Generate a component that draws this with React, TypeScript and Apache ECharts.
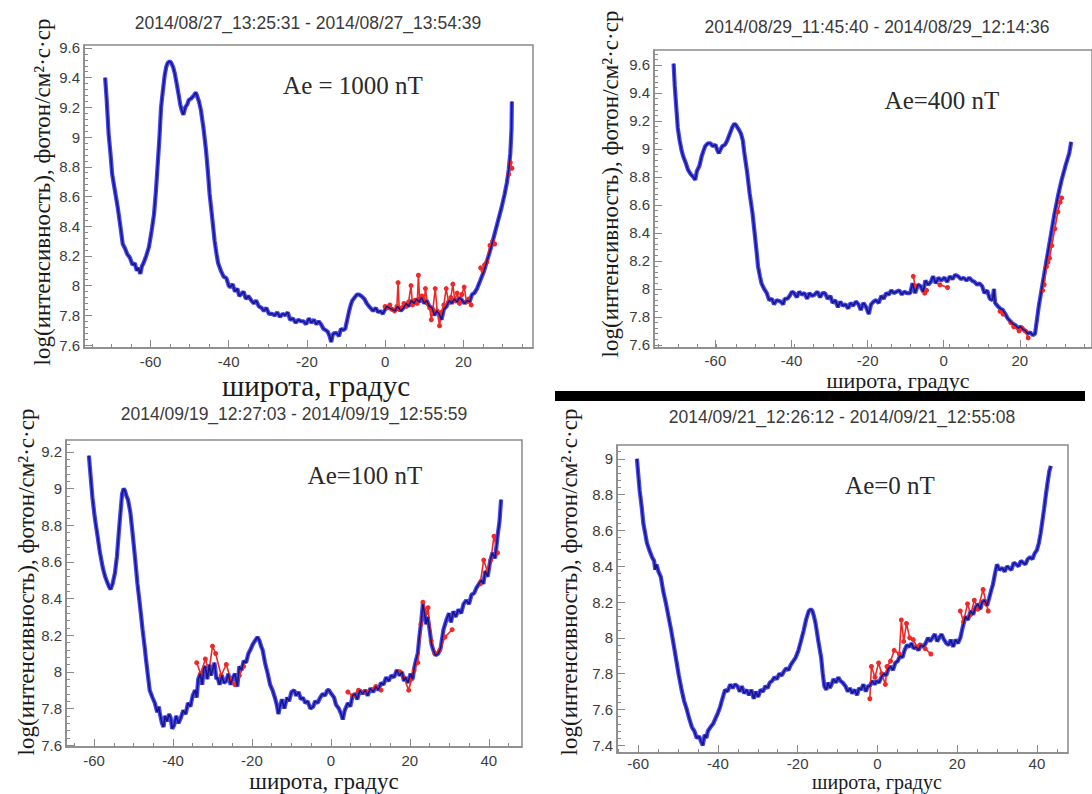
import React, { useEffect, useRef } from "react";
import * as echarts from "echarts";

type Pt = [number, number] | null;

const P1_TITLE = "2014/08/27_13:25:31 - 2014/08/27_13:54:39";
const P2_TITLE = "2014/08/29_11:45:40 - 2014/08/29_12:14:36";
const P3_TITLE = "2014/09/19_12:27:03 - 2014/09/19_12:55:59";
const P4_TITLE = "2014/09/21_12:26:12 - 2014/09/21_12:55:08";
const AE_LABELS = ["Ae = 1000 nT", "Ae=400 nT", "Ae=100 nT", "Ae=0 nT"];
const X_NAME = "широта, градус";
const Y_NAME = "log(интенсивность), фотон/см²·с·ср";

const P1_BLUE: Pt[] = [
  [-71.6, 9.4], [-71.2, 9.25], [-70.7, 9.02], [-70.2, 8.88], [-69.8, 8.75], [-69.1, 8.64], [-68.4, 8.53], [-67.7, 8.4],
  [-67.1, 8.28], [-66.5, 8.25], [-65.9, 8.21], [-65.3, 8.19], [-64.6, 8.14], [-64.0, 8.15], [-63.5, 8.1], [-63.1, 8.12],
  [-62.6, 8.08], [-62.2, 8.13], [-61.8, 8.15], [-61.1, 8.2], [-60.4, 8.26], [-59.7, 8.37], [-59.1, 8.48], [-58.6, 8.64],
  [-58.2, 8.8], [-57.7, 9.0], [-57.3, 9.2], [-56.8, 9.32], [-56.4, 9.41], [-56.0, 9.47], [-55.6, 9.5], [-55.1, 9.51],
  [-54.7, 9.5], [-54.2, 9.47], [-53.8, 9.43], [-53.3, 9.36], [-52.9, 9.3], [-52.4, 9.22], [-52.0, 9.18], [-51.6, 9.15],
  [-51.1, 9.2], [-50.6, 9.22], [-50.2, 9.25], [-49.6, 9.26], [-48.9, 9.28], [-48.4, 9.3], [-48.0, 9.27], [-47.6, 9.24],
  [-47.1, 9.18], [-46.4, 9.05], [-45.8, 8.91], [-45.3, 8.76], [-44.9, 8.62], [-44.2, 8.45], [-43.6, 8.3], [-43.1, 8.21],
  [-42.7, 8.15], [-42.0, 8.1], [-41.3, 8.06], [-40.6, 8.05], [-40.0, 8.0], [-39.6, 7.99], [-39.0, 8.01], [-38.4, 7.96],
  [-37.8, 7.98], [-37.3, 7.93], [-36.9, 7.94], [-36.2, 7.96], [-35.6, 7.91], [-35.0, 7.93], [-34.2, 7.9], [-33.6, 7.88],
  [-33.0, 7.9], [-32.3, 7.86], [-31.6, 7.85], [-31.0, 7.83], [-30.4, 7.85], [-29.7, 7.81], [-28.9, 7.81], [-28.2, 7.8],
  [-27.6, 7.82], [-26.9, 7.79], [-26.2, 7.81], [-25.6, 7.8], [-24.9, 7.82], [-24.3, 7.77], [-23.6, 7.78], [-22.9, 7.75],
  [-22.2, 7.77], [-21.5, 7.76], [-20.9, 7.76], [-20.2, 7.74], [-19.5, 7.78], [-18.9, 7.75], [-18.2, 7.77], [-17.6, 7.74],
  [-17.0, 7.76], [-16.4, 7.74], [-15.8, 7.71], [-15.2, 7.7], [-14.7, 7.69], [-14.2, 7.66], [-13.8, 7.62], [-13.4, 7.67],
  [-13.0, 7.68], [-12.4, 7.68], [-11.8, 7.66], [-11.3, 7.71], [-10.7, 7.7], [-10.2, 7.71], [-9.7, 7.77], [-9.2, 7.83],
  [-8.8, 7.87], [-8.4, 7.9], [-7.8, 7.92], [-7.2, 7.94], [-6.7, 7.94], [-6.1, 7.93], [-5.3, 7.91], [-4.7, 7.88],
  [-4.1, 7.86], [-3.1, 7.83], [-2.4, 7.85], [-1.8, 7.82], [-1.3, 7.83], [-0.6, 7.81], [0.0, 7.84], [0.4, 7.86],
  [1.0, 7.85], [1.8, 7.84], [2.5, 7.83], [3.2, 7.86], [4.0, 7.83], [4.7, 7.85], [5.4, 7.88], [6.0, 7.86],
  [6.7, 7.9], [7.4, 7.88], [8.0, 7.91], [8.7, 7.89], [9.3, 7.92], [10.0, 7.88], [10.6, 7.9], [11.3, 7.86],
  [12.0, 7.85], [12.6, 7.8], [13.2, 7.83], [13.8, 7.81], [14.4, 7.77], [15.0, 7.84], [15.7, 7.86], [16.4, 7.9],
  [17.0, 7.88], [17.7, 7.91], [18.4, 7.89], [19.0, 7.92], [19.7, 7.9], [20.3, 7.88], [21.0, 7.9], [21.6, 7.89],
  [22.2, 7.94], [22.8, 7.95], [23.5, 7.98], [24.4, 8.04], [25.3, 8.1], [26.2, 8.18], [27.1, 8.26], [28.0, 8.35],
  [28.9, 8.44], [29.8, 8.53], [30.5, 8.61], [31.1, 8.69], [31.6, 8.78], [32.0, 8.89], [32.3, 9.05], [32.4, 9.24],
];
const P1_RED: Pt[] = [
  [0.0, 7.86], [0.6, 7.85], [1.2, 7.87], [1.8, 7.84], [2.4, 7.83], [3.0, 7.86], [3.3, 8.02], [3.6, 7.84],
  [4.2, 7.85], [4.8, 7.88], [5.4, 7.86], [6.0, 7.89], [6.6, 8.0], [7.0, 7.87], [7.6, 7.9], [8.2, 7.88],
  [8.5, 8.07], [8.8, 7.91], [9.4, 7.93], [10.0, 7.9], [10.3, 7.98], [10.8, 7.88], [11.4, 7.85], [11.8, 7.77],
  [12.2, 7.84], [12.8, 7.98], [13.3, 7.83], [13.9, 7.73], [14.4, 7.82], [15.0, 7.87], [15.6, 7.98], [16.2, 7.89],
  [16.8, 7.92], [17.3, 8.01], [17.8, 7.9], [18.4, 7.95], [19.0, 7.88], [19.6, 7.94], [20.2, 7.99], [20.8, 7.89],
  [21.4, 7.91], [22.0, 7.87], null,
  [24.4, 8.12], [25.0, 8.1], [25.4, 8.14], [26.0, 8.16], [26.8, 8.27], [27.5, 8.3], [28.0, 8.28], null,
  [31.6, 8.75], [32.0, 8.83], [32.4, 8.79],
];

const P2_BLUE: Pt[] = [
  [-71.0, 9.61], [-70.7, 9.45], [-70.3, 9.3], [-69.9, 9.15], [-69.4, 9.06], [-68.9, 8.99], [-68.5, 8.95], [-67.8, 8.9],
  [-67.2, 8.85], [-66.5, 8.82], [-65.8, 8.8], [-65.3, 8.78], [-64.9, 8.84], [-64.2, 8.88], [-63.6, 8.95], [-63.1, 8.99],
  [-62.7, 9.02], [-62.0, 9.04], [-61.3, 9.04], [-60.7, 9.02], [-60.0, 9.03], [-59.5, 8.99], [-59.1, 8.97], [-58.6, 9.0],
  [-58.2, 9.02], [-57.5, 9.03], [-56.9, 9.06], [-56.2, 9.11], [-55.5, 9.16], [-55.0, 9.18], [-54.6, 9.17], [-53.9, 9.14],
  [-53.3, 9.11], [-52.8, 9.06], [-52.4, 8.97], [-51.7, 8.84], [-51.0, 8.68], [-50.3, 8.55], [-49.7, 8.4], [-49.2, 8.27],
  [-48.8, 8.16], [-48.3, 8.09], [-47.9, 8.04], [-47.2, 8.0], [-46.5, 7.97], [-45.9, 7.92], [-45.2, 7.93], [-44.6, 7.89],
  [-43.9, 7.92], [-42.9, 7.91], [-42.2, 7.89], [-41.8, 7.93], [-41.1, 7.93], [-40.5, 7.95], [-39.9, 7.98], [-39.3, 7.97],
  [-38.6, 7.94], [-38.0, 7.98], [-37.3, 7.96], [-36.6, 7.97], [-35.9, 7.93], [-35.3, 7.97], [-34.6, 7.95], [-33.9, 7.96],
  [-33.2, 7.98], [-32.5, 7.94], [-31.9, 7.97], [-31.2, 7.97], [-30.5, 7.93], [-29.8, 7.95], [-29.2, 7.9], [-28.5, 7.92],
  [-27.8, 7.87], [-27.2, 7.91], [-26.5, 7.88], [-25.8, 7.89], [-25.1, 7.86], [-24.5, 7.9], [-23.8, 7.88], [-23.1, 7.91],
  [-22.4, 7.89], [-21.8, 7.85], [-21.1, 7.9], [-20.4, 7.87], [-19.7, 7.82], [-19.1, 7.89], [-18.4, 7.91], [-17.8, 7.92],
  [-17.1, 7.9], [-16.4, 7.95], [-15.8, 7.93], [-15.1, 7.97], [-14.4, 7.96], [-13.8, 7.99], [-13.1, 7.97], [-12.4, 7.98],
  [-11.7, 7.99], [-11.0, 7.96], [-10.4, 7.98], [-9.7, 7.97], [-8.8, 7.97], [-8.2, 8.04], [-7.5, 7.97], [-6.8, 8.03],
  [-6.1, 8.02], [-5.4, 7.98], [-4.8, 8.06], [-4.1, 8.03], [-3.4, 8.05], [-2.8, 8.09], [-2.1, 8.04], [-1.4, 8.08],
  [-0.7, 8.06], [0.2, 8.08], [0.9, 8.05], [1.6, 8.09], [2.3, 8.07], [3.0, 8.1], [3.8, 8.09], [4.5, 8.07],
  [5.2, 8.08], [6.0, 8.06], [6.7, 8.08], [7.4, 8.06], [8.1, 8.05], [8.8, 8.03], [9.4, 8.04], [10.1, 8.02],
  [10.7, 7.97], [11.4, 7.99], [12.1, 7.93], [12.8, 7.92], [13.2, 8.0], [13.5, 7.9], [14.1, 7.88], [14.8, 7.86],
  [15.5, 7.85], [16.2, 7.82], [16.8, 7.79], [17.5, 7.77], [18.2, 7.75], [18.9, 7.74], [19.5, 7.72], [20.2, 7.73],
  [20.9, 7.71], [21.5, 7.7], [22.1, 7.68], [22.7, 7.69], [23.4, 7.67], [24.0, 7.68], [25.0, 7.88], [26.0, 8.04],
  [27.0, 8.2], [28.0, 8.36], [29.0, 8.52], [30.0, 8.66], [31.0, 8.78], [32.0, 8.88], [33.0, 8.97], [33.5, 9.05],
];
const P2_RED: Pt[] = [
  [-8.0, 8.09], [-7.5, 8.02], null, [-5.0, 7.97], [-4.5, 7.99], null, [-1.0, 8.03], [1.0, 8.01], null,
  [14.8, 7.84], [15.6, 7.82], null, [17.6, 7.76], [18.4, 7.73], [19.8, 7.7], [20.6, 7.72], [21.4, 7.7], [22.2, 7.65], null,
  [26.0, 7.99], [26.4, 8.03], [27.0, 8.16], [27.4, 8.19], [27.8, 8.22], [28.4, 8.31], [29.2, 8.43], [30.0, 8.55],
  [30.6, 8.62], [31.0, 8.65],
];

const P3_BLUE: Pt[] = [
  [-61.3, 9.18], [-60.8, 9.05], [-60.4, 8.95], [-59.8, 8.84], [-59.1, 8.74], [-58.5, 8.65], [-57.8, 8.57], [-57.2, 8.52],
  [-56.5, 8.48], [-56.1, 8.46], [-55.8, 8.45], [-55.3, 8.48], [-54.7, 8.54], [-54.2, 8.63], [-53.8, 8.74], [-53.3, 8.87],
  [-52.9, 8.97], [-52.5, 9.0], [-52.2, 8.99], [-51.8, 8.96], [-51.4, 8.94], [-50.8, 8.87], [-50.3, 8.77], [-49.6, 8.62],
  [-49.0, 8.48], [-48.3, 8.35], [-47.7, 8.23], [-47.2, 8.14], [-46.8, 8.06], [-46.3, 7.97], [-45.9, 7.9], [-45.2, 7.86],
  [-44.6, 7.83], [-44.0, 7.78], [-43.6, 7.81], [-43.3, 7.77], [-42.8, 7.72], [-42.4, 7.7], [-42.0, 7.76], [-41.5, 7.73],
  [-41.0, 7.77], [-40.6, 7.75], [-40.2, 7.69], [-39.7, 7.71], [-39.2, 7.76], [-38.6, 7.72], [-38.0, 7.75], [-37.4, 7.79],
  [-36.8, 7.77], [-36.2, 7.83], [-35.6, 7.81], [-35.0, 7.87], [-34.4, 7.9], [-34.0, 7.86], [-33.6, 7.96], [-33.1, 7.99],
  [-32.6, 7.93], [-32.2, 8.02], [-31.8, 8.03], [-31.3, 7.96], [-30.8, 8.04], [-30.4, 7.98], [-30.0, 8.01], [-29.5, 8.05],
  [-29.0, 7.96], [-28.7, 7.97], [-28.2, 7.93], [-27.6, 7.98], [-27.1, 7.94], [-26.5, 7.95], [-26.0, 7.99], [-25.4, 7.93],
  [-24.8, 7.97], [-24.3, 7.99], [-23.7, 7.92], [-23.2, 8.03], [-22.6, 8.01], [-22.1, 8.06], [-21.5, 8.05], [-20.9, 8.1],
  [-20.4, 8.12], [-19.8, 8.15], [-19.2, 8.17], [-18.6, 8.19], [-18.1, 8.17], [-17.7, 8.14], [-17.3, 8.12], [-16.7, 8.05],
  [-16.0, 7.99], [-15.4, 7.93], [-14.8, 7.9], [-14.2, 7.86], [-13.7, 7.82], [-13.3, 7.77], [-12.9, 7.81], [-12.4, 7.85],
  [-11.8, 7.8], [-11.1, 7.86], [-10.6, 7.84], [-10.0, 7.89], [-9.3, 7.9], [-8.8, 7.87], [-8.2, 7.89], [-7.6, 7.85],
  [-7.1, 7.86], [-6.5, 7.83], [-5.9, 7.84], [-5.2, 7.8], [-4.5, 7.81], [-4.0, 7.84], [-3.4, 7.83], [-2.7, 7.86],
  [-2.1, 7.88], [-1.5, 7.87], [-0.9, 7.9], [-0.5, 7.9], [0.1, 7.88], [0.8, 7.86], [1.3, 7.82], [2.0, 7.8],
  [2.6, 7.77], [3.0, 7.74], [3.5, 7.79], [4.3, 7.83], [4.9, 7.81], [5.5, 7.87], [6.1, 7.88], [6.7, 7.85],
  [7.3, 7.9], [8.0, 7.88], [8.7, 7.9], [9.3, 7.87], [10.0, 7.91], [10.7, 7.89], [11.4, 7.92], [12.0, 7.9],
  [12.7, 7.94], [13.3, 7.93], [14.0, 7.97], [14.6, 7.95], [15.3, 7.98], [16.0, 7.97], [16.7, 8.01], [17.4, 7.98],
  [18.0, 8.0], [18.5, 7.95], [18.9, 7.97], [19.5, 7.94], [20.2, 7.99], [20.7, 7.96], [21.1, 8.02], [21.5, 8.06],
  [22.0, 8.1], [22.4, 8.19], [22.9, 8.28], [23.3, 8.37], [23.7, 8.32], [24.1, 8.26], [24.5, 8.3], [25.0, 8.23],
  [25.5, 8.15], [25.9, 8.12], [26.5, 8.09], [27.2, 8.1], [27.8, 8.13], [28.5, 8.23], [29.2, 8.28], [29.9, 8.32],
  [30.4, 8.27], [31.0, 8.33], [31.6, 8.3], [32.3, 8.34], [33.0, 8.32], [33.6, 8.37], [34.3, 8.39], [35.0, 8.37],
  [35.6, 8.42], [36.3, 8.43], [36.9, 8.46], [37.5, 8.48], [38.1, 8.5], [38.6, 8.48], [39.1, 8.55], [39.7, 8.52],
  [40.3, 8.6], [40.9, 8.65], [41.6, 8.62], [42.2, 8.74], [42.7, 8.82], [43.1, 8.94],
];
const P3_RED: Pt[] = [
  [-34.0, 8.05], [-33.0, 7.99], [-31.8, 8.07], [-30.9, 8.0], [-30.0, 8.14], [-29.2, 8.1], [-27.8, 7.98], [-26.5, 8.04],
  [-25.4, 7.96], [-24.3, 7.93], [-23.2, 7.98], [-22.1, 8.03], null,
  [4.3, 7.89], [5.5, 7.87], [7.0, 7.9], [8.7, 7.89], [11.4, 7.92], [12.7, 7.9], null,
  [17.5, 8.0], [18.5, 7.97], [19.7, 7.9], [20.4, 7.96], [21.1, 8.01], [22.0, 8.05], [22.8, 8.26], [23.3, 8.38],
  [24.1, 8.32], [24.6, 8.35], [25.4, 8.17], [26.3, 8.1], [27.6, 8.12], [28.9, 8.19], [30.7, 8.23], null,
  [37.8, 8.48], [38.7, 8.61], [39.6, 8.55], [40.5, 8.61], [41.3, 8.74], [42.2, 8.65],
];

const P4_BLUE: Pt[] = [
  [-60.3, 9.0], [-60.0, 8.92], [-59.6, 8.82], [-59.1, 8.73], [-58.7, 8.64], [-58.2, 8.58], [-57.8, 8.53], [-57.2, 8.49],
  [-56.5, 8.45], [-56.0, 8.43], [-55.7, 8.38], [-55.4, 8.41], [-54.9, 8.37], [-54.3, 8.34], [-53.7, 8.26], [-53.0, 8.19],
  [-52.4, 8.12], [-51.7, 8.04], [-51.0, 7.95], [-50.4, 7.87], [-49.8, 7.79], [-49.1, 7.71], [-48.5, 7.65], [-47.8, 7.6],
  [-47.2, 7.55], [-46.5, 7.5], [-45.9, 7.48], [-45.3, 7.44], [-44.7, 7.45], [-44.2, 7.42], [-43.8, 7.4], [-43.3, 7.46],
  [-42.9, 7.44], [-42.5, 7.48], [-41.9, 7.5], [-41.2, 7.52], [-40.6, 7.55], [-40.0, 7.58], [-39.5, 7.61], [-39.0, 7.65],
  [-38.6, 7.68], [-38.2, 7.71], [-37.6, 7.7], [-36.9, 7.74], [-36.3, 7.72], [-35.7, 7.74], [-35.1, 7.73], [-34.5, 7.7],
  [-34.0, 7.73], [-33.4, 7.69], [-32.8, 7.71], [-32.2, 7.68], [-31.6, 7.71], [-31.0, 7.66], [-30.5, 7.7], [-29.9, 7.67],
  [-29.3, 7.71], [-28.7, 7.7], [-28.1, 7.73], [-27.5, 7.72], [-27.0, 7.75], [-26.4, 7.76], [-25.8, 7.78], [-25.2, 7.77],
  [-24.6, 7.8], [-24.0, 7.79], [-23.5, 7.81], [-22.9, 7.83], [-22.3, 7.82], [-21.7, 7.85], [-21.1, 7.87], [-20.5, 7.89],
  [-19.8, 7.93], [-19.2, 7.98], [-18.5, 8.04], [-17.9, 8.1], [-17.2, 8.15], [-16.7, 8.16], [-16.3, 8.15], [-15.9, 8.12],
  [-15.5, 8.08], [-14.8, 7.98], [-14.1, 7.89], [-13.7, 7.8], [-13.3, 7.73], [-12.8, 7.71], [-12.4, 7.75], [-11.9, 7.72],
  [-11.5, 7.74], [-11.0, 7.77], [-10.4, 7.75], [-9.8, 7.78], [-9.3, 7.76], [-8.7, 7.75], [-8.0, 7.73], [-7.4, 7.7],
  [-6.9, 7.72], [-6.3, 7.69], [-5.7, 7.71], [-5.1, 7.68], [-4.6, 7.72], [-4.1, 7.71], [-3.5, 7.74], [-2.9, 7.7],
  [-2.4, 7.73], [-1.9, 7.73], [-1.3, 7.76], [-0.7, 7.74], [-0.2, 7.76], [0.4, 7.75], [1.0, 7.78], [1.6, 7.8],
  [2.2, 7.79], [2.8, 7.83], [3.3, 7.84], [3.9, 7.82], [4.5, 7.86], [5.1, 7.87], [5.7, 7.9], [6.3, 7.89],
  [6.8, 7.93], [7.4, 7.96], [8.0, 7.95], [8.6, 7.97], [9.1, 7.94], [9.7, 7.95], [10.3, 7.93], [10.9, 7.96],
  [11.5, 7.95], [12.1, 7.97], [12.7, 8.0], [13.2, 7.98], [13.8, 8.0], [14.4, 8.02], [15.0, 7.98], [15.5, 8.0],
  [16.1, 8.02], [16.7, 7.99], [17.3, 7.97], [17.9, 7.96], [18.4, 7.99], [19.0, 7.95], [19.6, 7.99], [20.2, 7.97],
  [20.8, 8.0], [21.4, 8.06], [22.1, 8.12], [22.7, 8.1], [23.4, 8.15], [24.0, 8.13], [24.6, 8.17], [25.2, 8.19],
  [25.8, 8.16], [26.3, 8.2], [26.9, 8.21], [27.5, 8.18], [28.0, 8.22], [28.6, 8.27], [29.0, 8.3], [29.5, 8.36],
  [30.0, 8.41], [30.6, 8.38], [31.3, 8.39], [31.9, 8.37], [32.5, 8.4], [33.0, 8.39], [33.6, 8.38], [34.2, 8.42],
  [34.8, 8.41], [35.4, 8.4], [36.0, 8.43], [36.5, 8.42], [37.1, 8.41], [37.7, 8.44], [38.3, 8.45], [38.9, 8.44],
  [39.4, 8.47], [40.0, 8.49], [40.5, 8.53], [40.9, 8.58], [41.3, 8.64], [41.8, 8.72], [42.2, 8.79], [42.7, 8.87],
  [43.1, 8.93], [43.5, 8.96],
];
const P4_RED: Pt[] = [
  [-1.9, 7.66], [-1.5, 7.84], [-0.6, 7.78], [0.3, 7.86], [1.1, 7.8], [2.0, 7.74], [2.4, 7.84], [3.3, 7.87],
  [4.2, 7.93], [5.5, 7.91], [6.0, 8.1], [6.6, 7.98], [7.3, 8.08], [8.1, 8.0], [9.0, 7.99], [9.9, 7.95],
  [10.7, 7.96], [12.0, 7.94], [13.4, 7.91], null,
  [20.8, 8.15], [21.6, 8.09], [22.6, 8.19], [23.4, 8.13], [24.3, 8.21], [25.2, 8.16], [26.5, 8.27], [27.3, 8.19],
  [27.8, 8.15],
];

const PANELS = [
  {
    title: P1_TITLE, ae: AE_LABELS[0], blue: P1_BLUE, red: P1_RED,
    grid: { left: 84, top: 45, width: 449, height: 303 }, x: [-77, 37.8], y: [7.58, 9.62], ySplit: 10, xLabelMargin: 6,
    titlePos: [308, 23], aePos: [353, 85], xNamePos: [316, 386], xNameSize: 29, yNamePos: [42, 192],
  },
  {
    title: P2_TITLE, ae: AE_LABELS[1], blue: P2_BLUE, red: P2_RED,
    grid: { left: 654, top: 50, width: 446, height: 298 }, x: [-76.15, 38.97], y: [7.578, 9.707], ySplit: 10, xLabelMargin: 5,
    titlePos: [877, 27], aePos: [942, 100], xNamePos: [898, 380], xNameSize: 22, yNamePos: [610, 184],
  },
  {
    title: P3_TITLE, ae: AE_LABELS[2], blue: P3_BLUE, red: P3_RED,
    grid: { left: 66, top: 440, width: 456, height: 307 }, x: [-67.1, 48.4], y: [7.59, 9.265], ySplit: 8, xLabelMargin: 6,
    titlePos: [294, 414], aePos: [365, 475], xNamePos: [324, 781], xNameSize: 23, yNamePos: [26, 582],
  },
  {
    title: P4_TITLE, ae: AE_LABELS[3], blue: P4_BLUE, red: P4_RED,
    grid: { left: 617, top: 445, width: 451, height: 308 }, x: [-65.3, 47.8], y: [7.357, 9.077], ySplit: 8, xLabelMargin: 3,
    titlePos: [842, 417], aePos: [890, 485], xNamePos: [877, 782], xNameSize: 20, yNamePos: [569, 582],
  },
];

const AXIS_GRAY = "#8a8a8a";
const LABEL_COLOR = "#3c3c3c";

function toData(pts: Pt[]) {
  return pts.map((p) => (p === null ? ["-", "-"] : p));
}

function buildOption() {
  const grids: any[] = [];
  const xAxes: any[] = [];
  const yAxes: any[] = [];
  const series: any[] = [];
  const graphics: any[] = [];

  PANELS.forEach((p) => {
    const g = p.grid;
    const [x0, x1] = p.x;
    const [y0, y1] = p.y;
    grids.push({ left: g.left, top: g.top, width: g.width, height: g.height, show: true, borderColor: AXIS_GRAY, borderWidth: 1.5, backgroundColor: "transparent" });
    const gi = grids.length - 1;
    xAxes.push({
      type: "value", gridIndex: gi, min: x0, max: x1, splitNumber: 5,
      axisLine: { show: true, onZero: false, lineStyle: { color: AXIS_GRAY, width: 1.5 } },
      axisTick: { show: true, inside: true, length: 8, lineStyle: { color: AXIS_GRAY } },
      axisLabel: { showMinLabel: false, showMaxLabel: false, color: LABEL_COLOR, fontFamily: "Liberation Sans", fontSize: 15, margin: p.xLabelMargin },
      splitLine: { show: false },
    });
    yAxes.push({
      type: "value", gridIndex: gi, min: y0, max: y1, splitNumber: p.ySplit,
      axisLine: { show: true, onZero: false, lineStyle: { color: AXIS_GRAY, width: 1.5 } },
      axisTick: { show: true, inside: true, length: 8, lineStyle: { color: AXIS_GRAY } },
      axisLabel: { showMinLabel: false, showMaxLabel: false, color: LABEL_COLOR, fontFamily: "Liberation Sans", fontSize: 15, margin: 4 },
      splitLine: { show: false },
    });
    // minor tick grid aligned on the same scale
    const xm0 = Math.ceil(x0 / 5) * 5;
    const xm1 = Math.floor(x1 / 5) * 5;
    const ym0 = Math.round(Math.ceil(y0 / 0.04 - 1e-6) * 4) / 100;
    const ym1 = Math.round(Math.floor(y1 / 0.04 + 1e-6) * 4) / 100;
    const mLeft = g.left + ((xm0 - x0) / (x1 - x0)) * g.width;
    const mWidth = ((xm1 - xm0) / (x1 - x0)) * g.width;
    const mTop = g.top + ((y1 - ym1) / (y1 - y0)) * g.height;
    const mHeight = ((ym1 - ym0) / (y1 - y0)) * g.height;
    grids.push({ left: mLeft, top: mTop, width: mWidth, height: mHeight, show: false });
    const mi = grids.length - 1;
    xAxes.push({
      type: "value", gridIndex: mi, min: xm0, max: xm1, interval: 5,
      offset: g.top + g.height - (mTop + mHeight),
      axisLine: { show: false, onZero: false }, axisLabel: { show: false }, splitLine: { show: false },
      axisTick: { show: true, inside: true, length: 4, lineStyle: { color: AXIS_GRAY } },
    });
    yAxes.push({
      type: "value", gridIndex: mi, min: ym0, max: ym1, interval: 0.04,
      offset: mLeft - g.left,
      axisLine: { show: false, onZero: false }, axisLabel: { show: false }, splitLine: { show: false },
      axisTick: { show: true, inside: true, length: 4, lineStyle: { color: AXIS_GRAY } },
    });

    const axIdx = xAxes.length - 2;
    series.push({
      type: "line", xAxisIndex: axIdx, yAxisIndex: axIdx, data: toData(p.blue), showSymbol: false,
      lineStyle: { color: "#2626ee", width: 4.2, opacity: 0.85 }, silent: true, z: 2,
    });
    series.push({
      type: "line", xAxisIndex: axIdx, yAxisIndex: axIdx, data: toData(p.red), showSymbol: true,
      symbol: "circle", symbolSize: 5, connectNulls: false,
      itemStyle: { color: "#f02828" }, lineStyle: { color: "#f02828", width: 1.6 }, silent: true, z: 3,
    });
    series.push({
      type: "line", xAxisIndex: axIdx, yAxisIndex: axIdx, data: toData(p.blue), showSymbol: false,
      lineStyle: { color: "#161680", width: 1.5 }, silent: true, z: 4,
    });

    graphics.push({
      type: "text", x: p.titlePos[0], y: p.titlePos[1], z: 10,
      style: { text: p.title, font: '17.5px "Liberation Sans"', fill: "#3a3a3a", textAlign: "center", textVerticalAlign: "middle" },
    });
    graphics.push({
      type: "text", x: p.aePos[0], y: p.aePos[1], z: 10,
      style: { text: p.ae, font: '25px "Liberation Serif"', fill: "#2a2a2a", textAlign: "center", textVerticalAlign: "middle" },
    });
    graphics.push({
      type: "text", x: p.xNamePos[0], y: p.xNamePos[1], z: 10,
      style: { text: X_NAME, font: `${p.xNameSize}px "Liberation Serif"`, fill: "#1a1a1a", textAlign: "center", textVerticalAlign: "middle" },
    });
    graphics.push({
      type: "text", x: p.yNamePos[0], y: p.yNamePos[1], rotation: Math.PI / 2, z: 10,
      style: { text: Y_NAME, font: '23px "Liberation Serif"', fill: "#1a1a1a", textAlign: "center", textVerticalAlign: "middle" },
    });
  });

  graphics.push({ type: "rect", shape: { x: 555, y: 391, width: 530, height: 10 }, style: { fill: "#000" }, z: 20 });

  return {
    animation: false,
    backgroundColor: "#ffffff",
    grid: grids,
    xAxis: xAxes,
    yAxis: yAxes,
    series,
    graphic: graphics,
  };
}

export default function App() {
  const ref = useRef<HTMLDivElement>(null);
  useEffect(() => {
    if (!ref.current) return;
    const chart = echarts.init(ref.current, undefined, { renderer: "svg" });
    chart.setOption(buildOption() as any);
    return () => chart.dispose();
  }, []);
  return (
    <div
      ref={ref}
      style={{ position: "absolute", left: 0, top: 0, width: 1092, height: 794, background: "#fff" }}
    />
  );
}
